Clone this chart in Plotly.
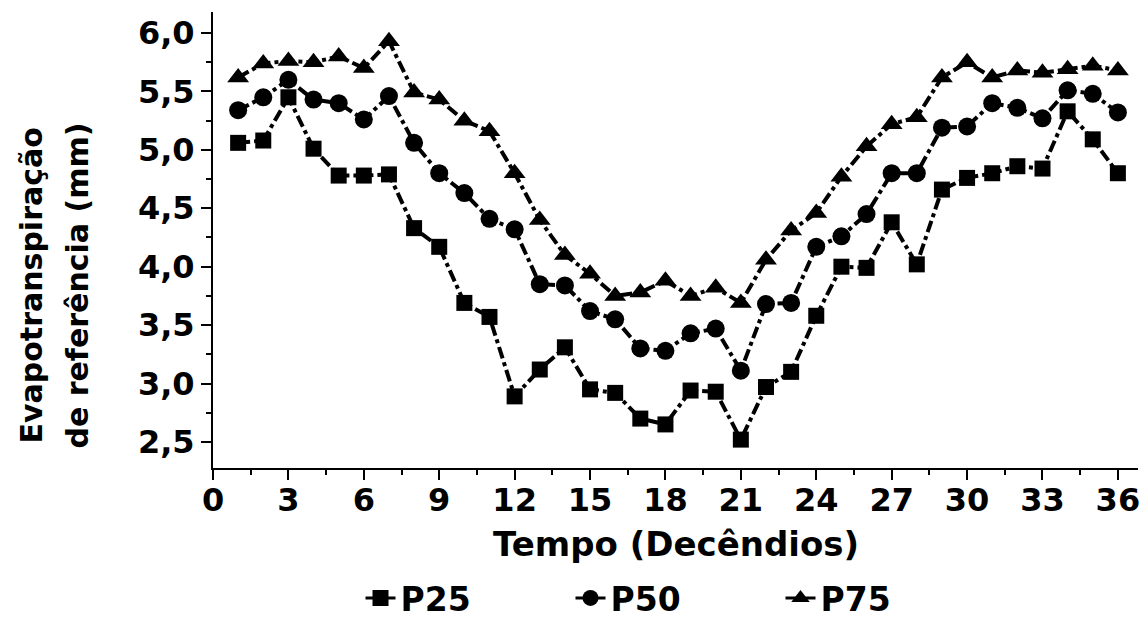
import plotly.graph_objects as go

decendios = list(range(1, 37))
p25 = [5.06, 5.08, 5.45, 5.01, 4.78, 4.78, 4.79, 4.33, 4.17, 3.69, 3.57, 2.89,
       3.12, 3.31, 2.95, 2.92, 2.70, 2.65, 2.94, 2.93, 2.52, 2.97, 3.10, 3.58,
       4.00, 3.99, 4.38, 4.02, 4.66, 4.76, 4.80, 4.86, 4.84, 5.33, 5.09, 4.80]
p50 = [5.34, 5.45, 5.60, 5.43, 5.40, 5.26, 5.46, 5.06, 4.80, 4.63, 4.41, 4.32,
       3.85, 3.84, 3.62, 3.55, 3.30, 3.28, 3.43, 3.47, 3.11, 3.68, 3.69, 4.17,
       4.26, 4.45, 4.80, 4.80, 5.19, 5.20, 5.40, 5.36, 5.27, 5.51, 5.48, 5.32]
p75 = [5.62, 5.74, 5.76, 5.75, 5.80, 5.70, 5.93, 5.49, 5.43, 5.25, 5.16, 4.80,
       4.40, 4.10, 3.94, 3.75, 3.78, 3.88, 3.75, 3.82, 3.69, 4.06, 4.31, 4.46,
       4.77, 5.03, 5.22, 5.28, 5.62, 5.75, 5.62, 5.68, 5.66, 5.69, 5.72, 5.68]
series_names = ["P25", "P50", "P75"]
x_ticks = list(range(0, 37, 3))
y_ticks = [2.5, 3.0, 3.5, 4.0, 4.5, 5.0, 5.5, 6.0]
x_title = "Tempo (Decêndios)"
y_title_lines = ["Evapotranspiração", "de referência (mm)"]

FONT = "DejaVu Sans, sans-serif"
symbols = ["square", "circle", "triangle-up"]
sizes = [16, 18, 19]

fig = go.Figure()
for name, vals, sym, sz in zip(series_names, [p25, p50, p75], symbols, sizes):
    fig.add_trace(go.Scatter(
        x=decendios, y=vals, mode="lines+markers", name=name, showlegend=False,
        line=dict(color="black", width=4, dash="dashdot"),
        marker=dict(symbol=sym, size=sz, color="black"),
    ))
    # legend entry drawn with a solid line, as in the reference
    fig.add_trace(go.Scatter(
        x=[None], y=[None], mode="lines+markers", name=name, showlegend=True,
        line=dict(color="black", width=3),
        marker=dict(symbol=sym, size=sz, color="black"),
    ))

bold = dict(family=FONT, color="black", weight="bold")

fig.update_layout(
    width=1140, height=615,
    paper_bgcolor="white", plot_bgcolor="white",
    separators=",.",
    margin=dict(l=205, r=10, t=4, b=155, autoexpand=False),
    font=dict(family=FONT, size=30, color="black"),
    legend=dict(orientation="h", x=0.5, xanchor="center", y=-0.285, yanchor="middle",
                font=dict(size=33, **bold), itemwidth=30, tracegroupgap=0,
                entrywidth=165, entrywidthmode="pixels",
                bgcolor="rgba(0,0,0,0)"),
    annotations=[
        dict(text=x_title, xref="paper", yref="paper", x=0.5, y=-0.167,
             xanchor="center", yanchor="middle", showarrow=False,
             font=dict(size=34, **bold)),
        dict(text=y_title_lines[0], xref="paper", yref="paper", x=-0.1957, y=0.40,
             xanchor="center", yanchor="middle", textangle=-90, showarrow=False,
             font=dict(size=30, **bold)),
        dict(text=y_title_lines[1], xref="paper", yref="paper", x=-0.146, y=0.40,
             xanchor="center", yanchor="middle", textangle=-90, showarrow=False,
             font=dict(size=30, **bold)),
    ],
)
fig.update_xaxes(
    range=[0, 36.8], tickvals=x_ticks, ticktext=[str(t) for t in x_ticks],
    showline=True, linecolor="black", linewidth=2, showgrid=False, zeroline=False,
    ticks="outside", ticklen=10, tickwidth=2, tickcolor="black",
    ticklabelstandoff=-7,
    minor=dict(dtick=1.5, tick0=0, ticks="outside", ticklen=5, tickwidth=2,
               tickcolor="black", showgrid=False),
    tickfont=dict(size=32, **bold),
)
fig.update_yaxes(
    range=[2.277, 6.18], tickvals=y_ticks, tickformat=".1f",
    showline=True, linecolor="black", linewidth=2, showgrid=False, zeroline=False,
    ticks="outside", ticklen=10, tickwidth=2, tickcolor="black",
    minor=dict(dtick=0.25, tick0=2.5, ticks="outside", ticklen=5, tickwidth=2,
               tickcolor="black", showgrid=False),
    tickfont=dict(size=32, **bold),
)

fig.write_html("out.html")
